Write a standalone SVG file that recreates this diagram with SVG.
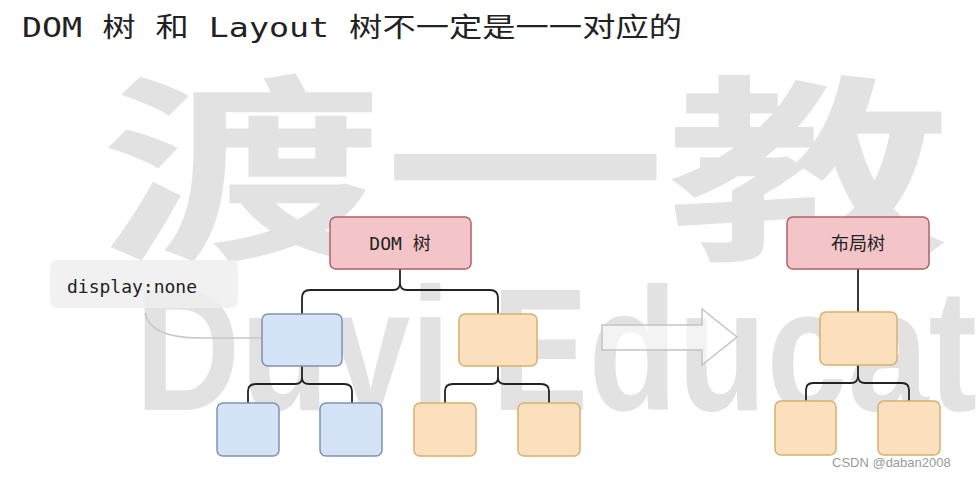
<svg xmlns="http://www.w3.org/2000/svg" width="977" height="477" viewBox="0 0 977 477">
<style>
.wm{fill:#e2e2e2;font-family:"Liberation Sans","Noto Sans CJK SC",sans-serif;font-weight:bold}
.red{fill:#f4c5c8;stroke:#b06068;stroke-width:1.5}
.blue{fill:#d5e3f7;stroke:#7d93b6;stroke-width:1.5}
.org{fill:#fce0bd;stroke:#d6b06e;stroke-width:1.5}
.ln{fill:none;stroke:#222;stroke-width:1.8}
.t{font-family:"DejaVu Sans Mono","Noto Sans CJK SC",monospace;fill:#222}
</style>
<rect width="977" height="477" fill="#fff"/>
<text class="wm" x="100" y="245" font-size="200" textLength="850" lengthAdjust="spacingAndGlyphs">渡一教</text>
<text class="wm" x="135" y="410" font-size="175" font-weight="normal" textLength="842" lengthAdjust="spacingAndGlyphs">Duyi Educat</text>
<text class="t" x="22" y="37" font-size="27" textLength="660" lengthAdjust="spacingAndGlyphs">DOM 树 和 Layout 树不一定是一一对应的</text>
<g id="connectors">
<path class="ln" d="M400,269 V283 Q400,290 393,290 H310 Q302,290 302,298 V314 M400,283 Q400,290 407,290 H490 Q498,290 498,298 V314"/>
<path class="ln" d="M302,366 V378 Q302,384 295,384 H256 Q248,384 248,391 V403 M302,378 Q302,384 309,384 H344 Q352,384 352,391 V403"/>
<path class="ln" d="M498,366 V378 Q498,384 491,384 H453 Q445,384 445,391 V403 M498,378 Q498,384 505,384 H541 Q549,384 549,391 V403"/>
<path class="ln" d="M858,269 V312"/>
<path class="ln" d="M858,365 V376 Q858,383 851,383 H813 Q806,383 806,390 V401 M858,376 Q858,383 865,383 H902 Q909,383 909,390 V401"/>
<path d="M145,313 Q150,338 200,338 H262" fill="none" stroke="#c8c8c8" stroke-width="1.5"/>
<path d="M602,325 H702 V309 L737,337 L702,365 V350 H602 Z" fill="#fff" fill-opacity="0.6" stroke="#c4c4c4" stroke-width="1.5"/>
</g>
<g id="note"><rect x="50" y="260" width="188" height="48" rx="6" fill="#efefef" fill-opacity="0.85"/><text class="t" x="67" y="293" font-size="18">display:none</text></g>
<g id="dom"><rect class="red" x="330" y="217" width="141" height="52" rx="6"/><text class="t" x="400" y="250" font-size="18" text-anchor="middle">DOM 树</text></g>
<g id="b1"><rect class="blue" x="262" y="314" width="80" height="52" rx="6"/></g>
<g id="o1"><rect class="org" x="459" y="314" width="78" height="52" rx="6"/></g>
<g id="b2"><rect class="blue" x="217" y="403" width="62" height="53" rx="6"/></g>
<g id="b3"><rect class="blue" x="320" y="403" width="62" height="53" rx="6"/></g>
<g id="o2"><rect class="org" x="414" y="403" width="62" height="53" rx="6"/></g>
<g id="o3"><rect class="org" x="518" y="403" width="62" height="53" rx="6"/></g>
<g id="layout"><rect class="red" x="787" y="217" width="142" height="52" rx="6"/><text class="t" x="858" y="250" font-size="18" text-anchor="middle">布局树</text></g>
<g id="o4"><rect class="org" x="820" y="312" width="77" height="53" rx="6"/></g>
<g id="o5"><rect class="org" x="775" y="401" width="61" height="54" rx="6"/></g>
<g id="o6"><rect class="org" x="878" y="401" width="62" height="54" rx="6"/></g>
<text x="832" y="467" font-size="13" fill="#9a9a9a" font-family="Liberation Sans,sans-serif">CSDN @daban2008</text>
</svg>
